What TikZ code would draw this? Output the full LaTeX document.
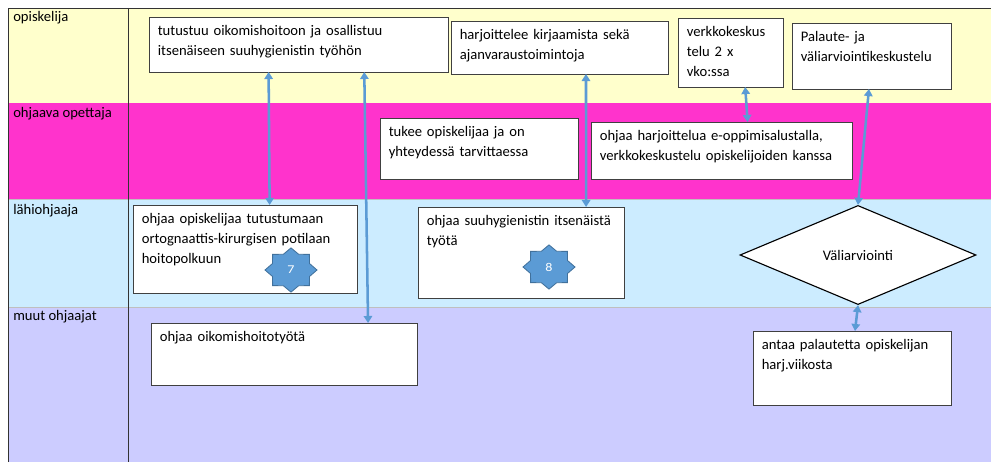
\documentclass[tikz,border=0pt]{standalone}
\usepackage{fontspec}
\setmainfont{Carlito}
\usetikzlibrary{shapes.geometric,arrows.meta,calc}

\definecolor{laneyellow}{HTML}{FFFFCC}
\definecolor{lanepink}{HTML}{FF33CC}
\definecolor{laneblue}{HTML}{CCECFF}
\definecolor{lanelila}{HTML}{CCCCFF}
\definecolor{linkblue}{HTML}{5B9BD5}
\definecolor{starline}{HTML}{41719C}

\begin{document}
\begin{tikzpicture}[
    tbox/.style 2 args={draw=black!75, line width=0.6pt, fill=white, anchor=north west, outer sep=0pt,
        align=left, inner xsep=0.22cm, inner ysep=0.19cm, text width={#1-0.44cm},
        text height=0.28cm, text depth={#2-0.66cm}, font=\fontsize{10.4}{14}\selectfont},
    lanelabel/.style={anchor=base west, inner sep=0pt, font=\fontsize{10.4}{14}\selectfont},
    link/.style={{Triangle[length=5pt,width=6pt]}-{Triangle[length=5pt,width=6pt]}, draw=linkblue, line width=1.8pt},
    badge/.style={star, star points=8, star point ratio=1.3, minimum size=1.3cm, yscale=0.85,
        fill=linkblue, draw=starline, line width=0.6pt, text=white, inner sep=0pt, font=\fontsize{10}{11}\selectfont}
]
            \useasboundingbox (0,0) rectangle (24.775,-11.55);

            % Lanes
            \fill[laneyellow] (0.2,-0.2) rectangle (24.775,-2.575);
            \fill[lanepink] (0.2,-2.575) rectangle (24.775,-4.975);
            \fill[laneblue] (0.2,-4.975) rectangle (24.775,-7.675);
            \fill[lanelila] (0.2,-7.675) rectangle (24.775,-11.55);
            \draw[black!25, line width=0.5pt] (0.2,-4.975) -- (24.775,-4.975);
            \draw[black!25, line width=0.5pt] (0.2,-7.675) -- (24.775,-7.675);
            \draw[black!80, line width=0.7pt] (0.2,-11.55) -- (0.2,-0.2) -- (24.775,-0.2);
            \draw[black!80, line width=0.7pt] (3.2,-0.2) -- (3.2,-11.55);

            \node[lanelabel] (opisk) at (0.325,-0.54) {opiskelija};
            \node[lanelabel] (ohjop) at (0.325,-2.95) {ohjaava opettaja};
            \node[lanelabel] (lahi) at (0.325,-5.35) {lähiohjaaja};
            \node[lanelabel] (muut) at (0.325,-8.02) {muut ohjaajat};

            % opiskelija
            \node[tbox={7.475cm}{1.375cm}] (tutustuu) at (3.725,-0.425) {tutustuu oikomishoitoon ja osallistuu\\ itsenäiseen suuhygienistin työhön};
            \node[tbox={5.425cm}{1.325cm}] (kirjaa) at (11.275,-0.525) {harjoittelee kirjaamista sekä\\ ajanvaraustoimintoja};
            \node[tbox={2.625cm}{1.725cm}] (verkko) at (16.95,-0.45) {verkkokeskus\\ telu 2 x\\ vko:ssa};
            \node[tbox={3.975cm}{1.65cm}] (palaute) at (19.8,-0.575) {Palaute- ja\\ väliarviointikeskustelu};

            % ohjaava opettaja
            \node[tbox={4.95cm}{1.525cm}] (tukee) at (9.5,-2.95) {tukee opiskelijaa ja on\\ yhteydessä tarvittaessa};
            \node[tbox={6.525cm}{1.425cm}] (eoppi) at (14.775,-3.05) {ohjaa harjoittelua e-oppimisalustalla,\\ verkkokeskustelu opiskelijoiden kanssa};

            % lahiohjaaja
            \node[tbox={5.6cm}{2.2cm}] (ortogn) at (3.325,-5.125) {ohjaa opiskelijaa tutustumaan\\ ortognaattis-kirurgisen potilaan\\ hoitopolkuun};
            \node[tbox={5.15cm}{2.275cm}] (itsen) at (10.45,-5.175) {ohjaa suuhygienistin itsenäistä\\ työtä};
            \node[diamond, draw=black, line width=0.8pt, fill=white, minimum width=5.9cm, minimum height=2.425cm,
                  font=\fontsize{10.4}{14}\selectfont] (valiarv) at (21.45,-6.375) {Väliarviointi};
            \node[badge] (star7) at (7.275,-6.75) {7};
            \node[badge] (star8) at (13.725,-6.675) {8};

            % muut ohjaajat
            \node[tbox={6.65cm}{1.55cm}] (oikom) at (3.775,-8.075) {ohjaa oikomishoitotyötä};
            \node[tbox={4.95cm}{1.85cm}] (antaa) at (18.825,-8.275) {antaa palautetta opiskelijan\\ harj.viikosta};

            % Links
            \draw[link] ($(tutustuu.south west)!0.4!(tutustuu.south east)$) -- ($(ortogn.north west)!0.61!(ortogn.north east)$);
            \draw[link] ($(tutustuu.south west)!0.72!(tutustuu.south east)$) -- ($(oikom.north west)!0.816!(oikom.north east)$);
            \draw[link] ($(kirjaa.south west)!0.622!(kirjaa.south east)$) -- ($(itsen.north west)!0.816!(itsen.north east)$);
            \draw[link] ($(verkko.south west)!0.64!(verkko.south east)$) -- ($(eoppi.north west)!0.6!(eoppi.north east)$);
            \draw[link] ($(palaute.south west)!0.484!(palaute.south east)$) -- (valiarv.north);
            \draw[link] (valiarv.south) -- ($(antaa.north west)!0.515!(antaa.north east)$);

        \end{tikzpicture}
\end{document}
